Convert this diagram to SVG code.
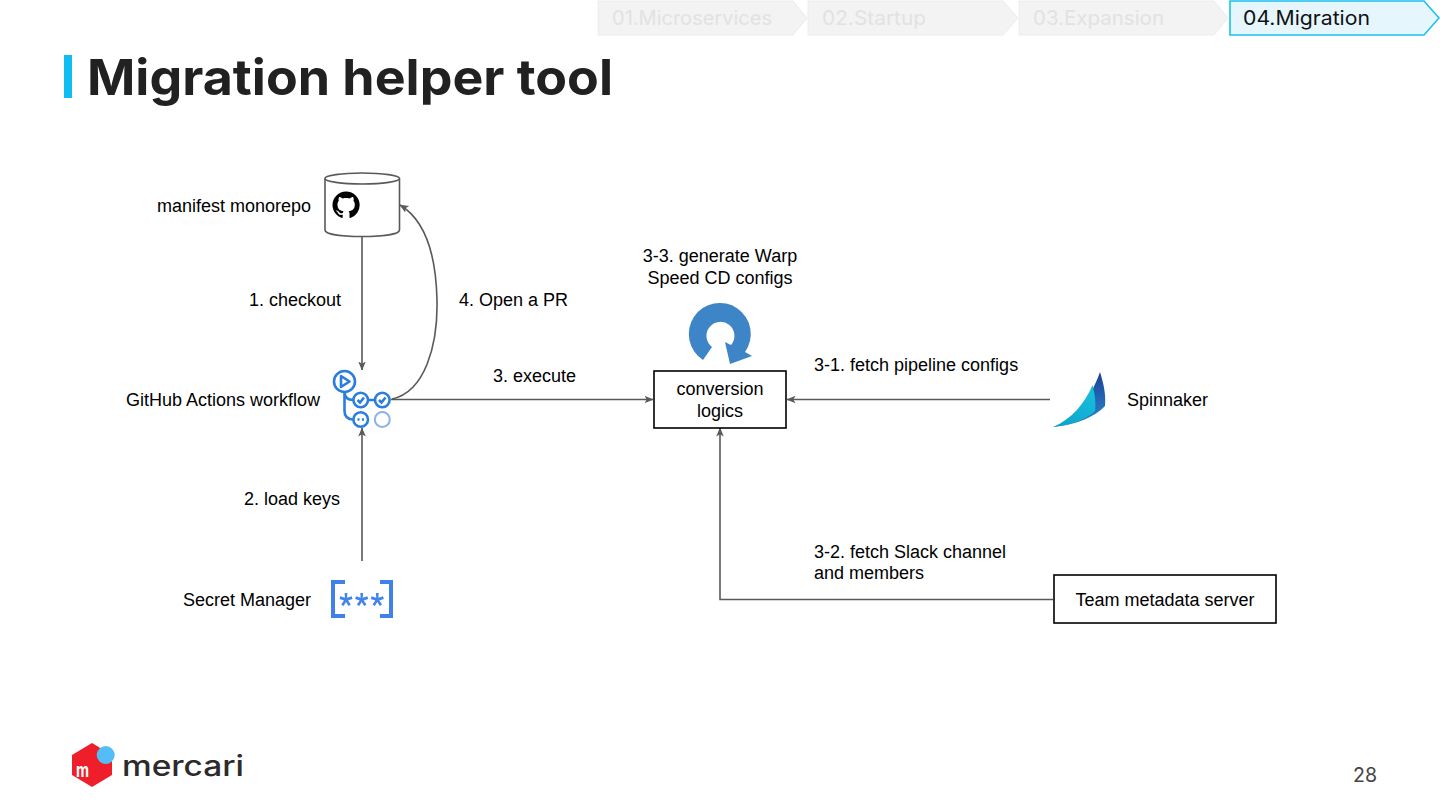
<svg xmlns="http://www.w3.org/2000/svg" width="1440" height="810" viewBox="0 0 1440 810">
<style>
.l{font-family:"Liberation Sans",Arial,sans-serif;font-size:18px;fill:#000}
.c{text-anchor:middle}
.m{font-family:Inter,"Open Sans",sans-serif}
.tab{font-size:20px;fill:#e2e2e2}
.chev{fill:#f3f3f3;stroke:#ececec;stroke-width:1}
.edge{fill:none;stroke:#595959;stroke-width:1.6}
.box{fill:#fff;stroke:#000;stroke-width:1.6}
.gh{fill:none;stroke:#2a7ede;stroke-width:2.6}
</style>
<defs>
<marker id="a" markerUnits="userSpaceOnUse" markerWidth="10" markerHeight="10" refX="8.500" refY="5" orient="auto"><path d="M0,1.200 L9,5 L0,8.800 L2.200,5 Z" fill="#595959"/></marker>
<linearGradient id="sd" x1="0" y1="0" x2="0" y2="1"><stop offset="0" stop-color="#1c3f9a"/><stop offset="1" stop-color="#2a8fcb"/></linearGradient>
<linearGradient id="sl" x1="1" y1="0" x2="0" y2="1"><stop offset="0" stop-color="#18c2de"/><stop offset="1" stop-color="#0c9fc8"/></linearGradient>
<path id="st" d="M-1.400,-7 H1.400 L1.100,-2.300 L5.700,-3.700 L6.500,-1.100 L2,.5 L4.800,4.500 L2.500,6.100 L0,2.100 L-2.500,6.100 L-4.800,4.500 L-2,.5 L-6.500,-1.100 L-5.700,-3.700 L-1.100,-2.300 Z" fill="#4285e8"/>
</defs>
<rect width="1440" height="810" fill="#fff"/>
<g id="breadcrumb">
<path class="chev" d="M598,1 H793 L807,18 L793,35 H598 Z"/>
<path class="chev" d="M808,1 H1003 L1018,18 L1003,35 H808 Z"/>
<path class="chev" d="M1019,1 H1214 L1228,18 L1214,35 H1019 Z"/>
<path d="M1230,1 H1424 L1439,18 L1424,35 H1230 Z" fill="#e5f7fd" stroke="#1cc0ee" stroke-width="1.600"/>
<text class="m tab" x="612" y="25" textLength="160" lengthAdjust="spacingAndGlyphs">01.Microservices</text>
<text class="m tab" x="822" y="25" textLength="104" lengthAdjust="spacingAndGlyphs">02.Startup</text>
<text class="m tab" x="1033" y="25" textLength="131" lengthAdjust="spacingAndGlyphs">03.Expansion</text>
<text class="m" x="1243" y="25" font-size="20" fill="#111" textLength="127" lengthAdjust="spacingAndGlyphs">04.Migration</text>
</g>
<g id="title">
<rect x="64" y="55" width="8" height="43" fill="#10bdf0"/>
<text class="m" x="87" y="95" font-size="50" font-weight="700" fill="#212121" textLength="526" lengthAdjust="spacingAndGlyphs">Migration helper tool</text>
</g>
<g id="connectors">
<path class="edge" marker-end="url(#a)" d="M362,236 V370"/>
<path class="edge" marker-end="url(#a)" d="M362,561 V428"/>
<path class="edge" marker-end="url(#a)" d="M391,399.500 H653"/>
<path class="edge" marker-end="url(#a)" d="M392,399 C425,392 438,345 437,300 C436,255 425,220 400,205"/>
<path class="edge" marker-end="url(#a)" d="M1050,399.500 H787"/>
<path class="edge" marker-end="url(#a)" d="M1053,599.500 H720 V428"/>
</g>
<g id="manifest-monorepo">
<path d="M325,178.500 V230 C325,234 340,236.500 362,236.500 C384,236.500 399.500,234 399.500,230 V178.500" fill="#fff" stroke="#595959" stroke-width="1.600"/>
<ellipse cx="362.200" cy="178.500" rx="37.300" ry="5.500" fill="#fff" stroke="#595959" stroke-width="1.600"/>
<path transform="translate(332.500,191.500) scale(1.700)" fill="#000" d="M8 0C3.580 0 0 3.580 0 8c0 3.540 2.290 6.530 5.470 7.590.4.070.55-.17.55-.38 0-.19-.01-.82-.01-1.490-2.010.37-2.530-.49-2.690-.94-.09-.23-.48-.94-.82-1.130-.28-.15-.68-.52-.01-.53.63-.01 1.080.58 1.230.82.72 1.210 1.870.87 2.330.66.07-.52.28-.87.51-1.070-1.780-.2-3.640-.89-3.640-3.950 0-.87.31-1.590.82-2.150-.08-.2-.36-1.020.08-2.120 0 0 .67-.21 2.200.82.64-.18 1.320-.27 2-.27.68 0 1.360.09 2 .27 1.530-1.040 2.200-.82 2.200-.82.44 1.100.16 1.920.08 2.120.51.56.82 1.270.82 2.150 0 3.070-1.870 3.750-3.650 3.950.29.25.54.73.54 1.480 0 1.070-.01 1.930-.01 2.200 0 .21.15.46.55.38A8.013 8.013 0 0016 8c0-4.420-3.580-8-8-8z"/>
<text class="l" x="157" y="212">manifest monorepo</text>
</g>
<g id="github-actions-workflow">
<path class="gh" d="M344.500,391.500 V411 Q344.500,419.500 353.500,419.500 M344.500,391.500 Q344.500,400 353.500,400 M367,400 H376"/>
<circle cx="344.500" cy="381.500" r="10.500" class="gh"/>
<path d="M341,376 L349.500,381.500 L341,387 Z" class="gh" stroke-linejoin="round"/>
<circle cx="360.700" cy="400" r="7.300" class="gh"/>
<circle cx="382.300" cy="400" r="7.300" class="gh"/>
<circle cx="360.700" cy="419.500" r="7.300" class="gh"/>
<circle cx="382.300" cy="419.500" r="7.500" fill="none" stroke="#8fb1e5" stroke-width="2"/>
<path class="gh" stroke-width="1.800" d="M357.500,400 L360,402.500 L364,397.500 M379,400 L381.500,402.500 L385.500,397.500"/>
<path d="M357.500,419.500 h2 M362,419.500 h2" class="gh" stroke-width="1.800"/>
<text class="l" x="126" y="406">GitHub Actions workflow</text>
</g>
<g id="secret-manager">
<path d="M345,582 H333 V616 H345 M380,582 H391 V616 H380" fill="none" stroke="#3f80ea" stroke-width="4"/>
<use href="#st" x="346" y="600"/>
<use href="#st" x="361.700" y="600"/>
<use href="#st" x="377.300" y="600"/>
<text class="l" x="183" y="606">Secret Manager</text>
</g>
<g id="conversion-logics">
<path fill="#3d85c6" d="M703,360 A31,31 0 1 1 745,352 L752,356 L730,364 L725,342 L731,345 A14,14 0 1 0 712,347 Z"/>
<text class="l c" x="720" y="262">3-3. generate Warp</text>
<text class="l c" x="720" y="284">Speed CD configs</text>
<rect class="box" x="654" y="371" width="132" height="57"/>
<text class="l c" x="720" y="395">conversion</text>
<text class="l c" x="720" y="417">logics</text>
</g>
<g id="spinnaker">
<path fill="url(#sd)" d="M1100,372 C1104,385 1106,395 1105,406 C1095,417 1075,425 1053,427 C1075,420 1090,400 1100,372 Z"/>
<path fill="url(#sl)" d="M1092.500,385 C1095,395 1096,403 1095,411 C1085,420 1070,425 1053,427 C1072,419 1085,403 1092.500,385 Z"/>
<text class="l" x="1127" y="406">Spinnaker</text>
</g>
<g id="team-metadata-server">
<rect class="box" x="1054" y="575" width="222" height="48"/>
<text class="l c" x="1165" y="606">Team metadata server</text>
</g>
<g id="labels">
<text class="l" x="249" y="306">1. checkout</text>
<text class="l" x="244" y="505">2. load keys</text>
<text class="l" x="493" y="382">3. execute</text>
<text class="l" x="459" y="306">4. Open a PR</text>
<text class="l" x="814" y="371">3-1. fetch pipeline configs</text>
<text class="l" x="814" y="558">3-2. fetch Slack channel</text>
<text class="l" x="814" y="579">and members</text>
</g>
<g id="logo">
<path d="M72,755 L92,743 L112,755 V775 L92,787 L72,775 Z" fill="#ee1f2a"/>
<circle cx="105.700" cy="755" r="9" fill="#55bdf5"/>
<text x="76" y="777" font-family="Inter,sans-serif" font-size="19" font-weight="700" fill="#fff" textLength="13" lengthAdjust="spacingAndGlyphs">m</text>
<text x="122" y="776" font-family="Inter,sans-serif" font-size="28" font-weight="500" fill="#2b2b2b" textLength="122" lengthAdjust="spacingAndGlyphs">mercari</text>
</g>
<text class="m" x="1353" y="782" font-size="20" fill="#444" textLength="24" lengthAdjust="spacingAndGlyphs">28</text>
</svg>
